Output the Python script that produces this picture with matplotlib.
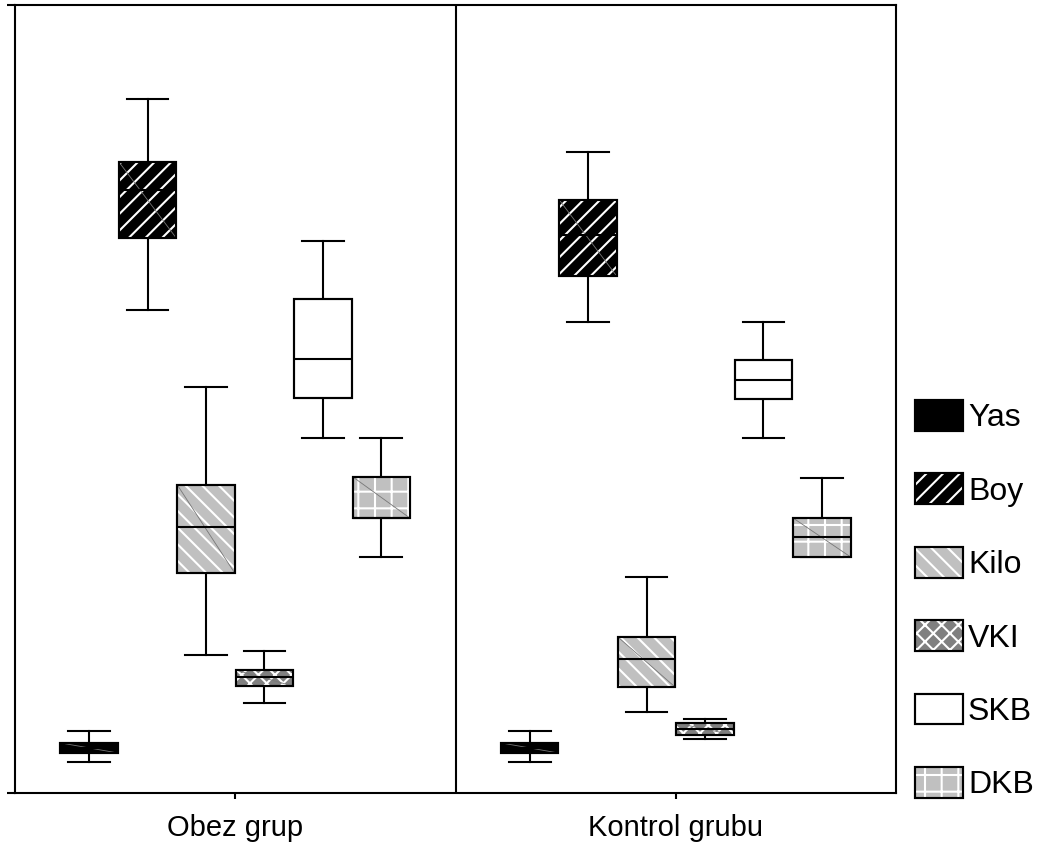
import matplotlib
matplotlib.use('Agg')
import matplotlib.pyplot as plt
from matplotlib.patches import PathPatch, Patch
from matplotlib.legend_handler import HandlerTuple

plt.rcParams['font.family'] = ['Liberation Sans', 'DejaVu Sans']
plt.rcParams['hatch.linewidth'] = 1.5

gruplar = ['Obez grup', 'Kontrol grubu']
degiskenler = ['Yas', 'Boy', 'Kilo', 'VKI', 'SKB', 'DKB']

# her kutu: [alt biyik, Q1, medyan, Q3, ust biyik]
obez = [
    [9.8, 12.7, 14.3, 15.9, 19.7],
    [153.2, 176.1, 191.3, 200.2, 220.2],
    [43.8, 69.8, 84.4, 97.7, 128.8],
    [28.6, 33.9, 36.8, 39.0, 45.1],
    [112.6, 125.3, 137.7, 156.7, 175.1],
    [74.9, 87.2, 87.2, 100.3, 112.6],
]
kontrol = [
    [9.8, 12.7, 14.3, 15.9, 19.7],
    [149.4, 164.0, 177.0, 188.1, 203.4],
    [25.7, 33.6, 42.5, 49.5, 68.5],
    [17.1, 18.4, 20.3, 22.2, 23.5],
    [112.6, 125.0, 131.0, 137.4, 149.4],
    [74.9, 74.9, 81.2, 87.2, 99.9],
]

renkler = ['black', 'black', '#c0c0c0', '#808080', 'white', '#c0c0c0']
taramalar = [None, '//', '\\\\', 'xx', None, '+']

fig = plt.figure(figsize=(10.43, 8.43), dpi=100)
ax = fig.add_axes([15/1043, 1-793/843, (896-15)/1043, (793-5)/843])

aralik = 0.1327
stats = []
pozisyon = []
for g, veri in enumerate([obez, kontrol]):
    for i, v in enumerate(veri):
        stats.append(dict(whislo=v[0], q1=v[1], med=v[2], q3=v[3], whishi=v[4], fliers=[]))
        pozisyon.append(g + (i - 2.5) * aralik)

lw = 1.5
bp = ax.bxp(stats, positions=pozisyon, widths=0.13, capwidths=0.095,
            patch_artist=True, showfliers=False,
            boxprops=dict(edgecolor='black', linewidth=lw),
            medianprops=dict(color='black', linewidth=lw, zorder=3.25),
            whiskerprops=dict(color='black', linewidth=lw),
            capprops=dict(color='black', linewidth=lw))

for k, kutu in enumerate(bp['boxes']):
    i = k % 6
    kutu.set_facecolor(renkler[i])
    kutu.set_zorder(3)
    yol = kutu.get_path()
    if taramalar[i]:
        ax.add_patch(PathPatch(yol, facecolor='none', edgecolor='white',
                               hatch=taramalar[i], linewidth=0, zorder=3.1))
    # SPSS tarzi ince kosegen
    if renkler[i] != 'white':
        s = stats[k]
        x0 = pozisyon[k] - 0.065
        x1 = pozisyon[k] + 0.065
        ax.plot([x0, x1], [s['q3'], s['q1']], color='#777777', lw=0.6, zorder=3.2)
    ax.add_patch(PathPatch(yol, facecolor='none', edgecolor='black',
                           linewidth=lw, zorder=3.3))

ax.axvline(0.5, color='black', lw=lw)
ax.set_xlim(-0.5, 1.5)
ax.set_ylim(0, 250)
ax.set_xticks([0, 1])
ax.set_xticklabels(gruplar, fontsize=21)
ax.set_yticks([0, 250])
ax.set_yticklabels([])
ax.tick_params(axis='x', length=4, width=lw, pad=11)
ax.tick_params(axis='y', length=6, width=lw)
for sp in ax.spines.values():
    sp.set_linewidth(lw)

tutamaclar = []
for i in range(6):
    parcalar = [Patch(facecolor=renkler[i], edgecolor='black', linewidth=lw)]
    if taramalar[i]:
        parcalar.append(Patch(facecolor='none', edgecolor='white',
                              hatch=taramalar[i], linewidth=0))
    parcalar.append(Patch(facecolor='none', edgecolor='black', linewidth=lw))
    tutamaclar.append(tuple(parcalar))

fig.legend(tutamaclar, degiskenler, loc='upper left',
           bbox_to_anchor=(915/1043, 1-400/843), frameon=False, fontsize=23,
           handlelength=1.5, handleheight=1.1, labelspacing=1.26,
           handletextpad=0.16, borderpad=0, borderaxespad=0,
           handler_map={tuple: HandlerTuple(ndivide=1, pad=0)})

fig.savefig('out.png', dpi=100)
